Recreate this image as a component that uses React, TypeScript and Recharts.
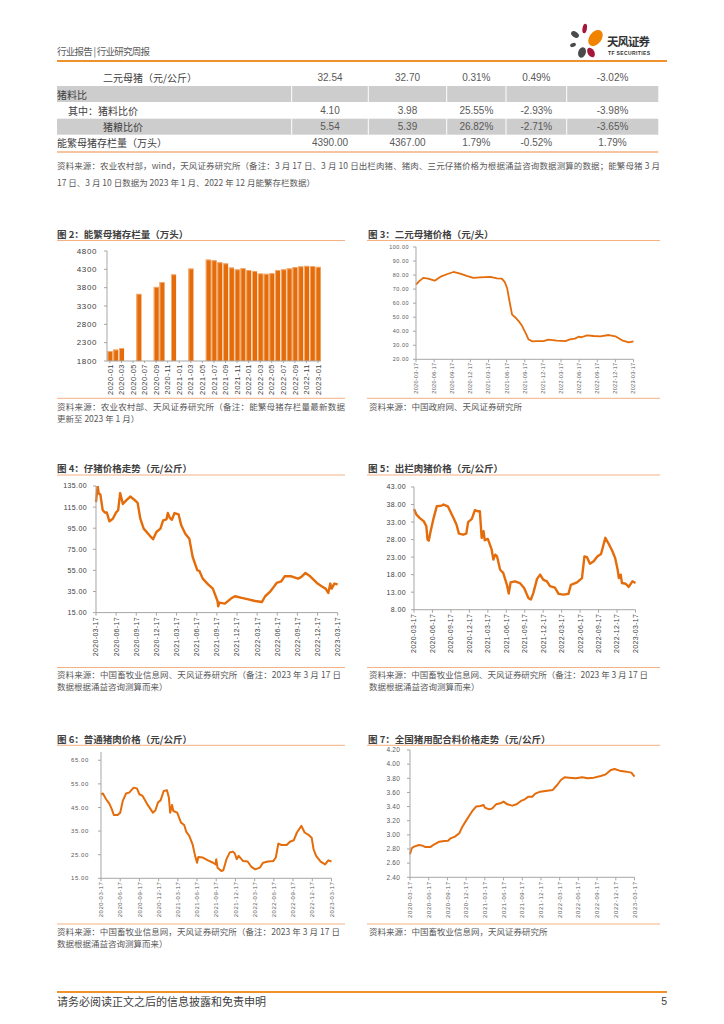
import React from 'react';
import { BarChart, Bar, LineChart, Line, XAxis, YAxis } from 'recharts';

const CJK = '"Noto Sans CJK SC","Noto Sans",sans-serif';
const NUM = '"Liberation Sans",Arial,sans-serif';
const LINE = '#E46C0A';
const RULE = '#F0922B';
const THIN = '#F4B183';

// ---------- table ----------
const rowLabels = ['二元母猪（元/公斤）', '猪料比', '其中：猪料比价', '猪粮比价', '能繁母猪存栏量（万头）'];
const rowValues = [
  ['32.54', '32.70', '0.31%', '0.49%', '-3.02%'],
  [],
  ['4.10', '3.98', '25.55%', '-2.93%', '-3.98%'],
  ['5.54', '5.39', '26.82%', '-2.71%', '-3.65%'],
  ['4390.00', '4367.00', '1.79%', '-0.52%', '1.79%'],
];

// ---------- chart 2: sow stock ----------
const sowMonths = ['2020-01','2020-02','2020-03','2020-04','2020-05','2020-06','2020-07','2020-08','2020-09','2020-10','2020-11','2020-12',
  '2021-01','2021-02','2021-03','2021-04','2021-05','2021-06','2021-07','2021-08','2021-09','2021-10','2021-11','2021-12',
  '2022-01','2022-02','2022-03','2022-04','2022-05','2022-06','2022-07','2022-08','2022-09','2022-10','2022-11','2022-12','2023-01'];
const sowStock = [2070, 2110, 2150, null, null, 3630, null, null, 3820, 3950, null, 4160,
  null, null, 4320, null, null, 4564, 4545, 4490, 4460, 4348, 4296, 4329,
  4280, 4255, 4185, 4177, 4192, 4277, 4298, 4324, 4362, 4379, 4394, 4390, 4367];
const sowTicks = [1800, 2300, 2800, 3300, 3800, 4300, 4800];

// ---------- date ticks for line charts (months since 2020-03-17) ----------
const dateTicks = ['2020-03-17','2020-06-17','2020-09-17','2020-12-17','2021-03-17','2021-06-17','2021-09-17',
  '2021-12-17','2022-03-17','2022-06-17','2022-09-17','2022-12-17','2023-03-17'];
const tickPos = dateTicks.map((_, i) => i * 3);

// chart 3: 二元母猪价格
const sowPrice = [[0,73.2],[0.5,75.5],[1.2,78],[2,77.5],[3.1,76],[4,78.7],[5.1,80.6],[6.2,82.2],[7.3,81],[8.4,79.4],[9.5,78],[10.6,78.4],[12.3,78.7],[13.4,77.7],[14.2,77.5],[14.7,75],[15.1,70.4],[15.5,60.8],[15.9,51.8],[16.4,50],[17.1,46.6],[17.5,44.2],[18.2,38.3],[18.6,34.3],[19.2,32.8],[20,33],[21.1,33],[21.9,34],[23.3,33.3],[24.7,33],[25.5,34.2],[26.3,34.7],[26.9,36.1],[27.4,35.7],[28.3,37.1],[29.4,36.6],[30.5,36.4],[31.9,37.3],[33,36.4],[34.1,33.5],[35.2,32.1],[36,32.8]];
// chart 4: 仔猪价格
const pigletPrice = [[0,119.8],[0.25,135],[0.4,128],[0.65,127],[1,112],[1.35,109.7],[1.6,110],[2,101.5],[2.5,104],[3,110],[3.3,112],[3.6,128.3],[4,118],[4.5,121.4],[5.1,125],[5.7,122],[6.2,119],[6.6,104],[7.1,94.6],[8,88],[8.5,84.5],[9,91.4],[9.6,94.6],[10,102.5],[10.5,103.4],[10.7,109.4],[11,104.7],[11.3,103],[11.7,109.4],[12.3,108],[12.7,97.7],[13.3,89.8],[13.9,85],[14.4,67.7],[15.1,55],[15.4,54.5],[15.9,47.2],[16.7,41.8],[17.4,37.7],[18.1,26],[18.2,21],[18.4,24.5],[19.2,23.5],[20.1,28.3],[20.7,30.5],[21.7,28.9],[22.7,27.6],[23.7,26],[24.7,25],[25.2,30.5],[25.9,34.6],[26.4,38.7],[26.9,43.1],[27.6,44.7],[28.1,49.4],[29.1,49.4],[30.1,47.2],[30.6,48.8],[31.2,52.6],[31.9,49.4],[32.9,43.1],[33.6,40],[34.2,37.7],[34.6,33.6],[34.9,42.5],[35.1,37.7],[35.5,42.5],[36,41.8]];
// chart 5: 出栏肉猪价格
const hogPrice = [[0,36.7],[0.4,35.1],[0.9,34.2],[1.6,33.2],[2,31.8],[2.2,28],[2.4,27.7],[2.7,30.4],[3.2,34.2],[3.7,37.5],[4.5,37.7],[4.8,38],[5.5,37.5],[6.4,34.2],[6.9,32.3],[7.3,29.7],[8,29.4],[8.5,29.7],[8.8,33],[9.4,33.9],[9.9,36.4],[10.3,36.1],[10.7,36.1],[11,28.5],[11.3,30.4],[11.5,27.8],[12,28.2],[12.6,25.3],[12.9,22.3],[13.2,23.7],[13.5,23.2],[14,19.4],[14.5,18.5],[15.1,15.1],[15.4,12.6],[15.7,15.8],[16.4,16.1],[17.2,15.6],[17.9,14.2],[18.6,11.3],[19,10.9],[19.4,12.8],[20,16.8],[20.5,18],[21,16.6],[21.6,16.1],[22.1,14.7],[22.9,14.3],[23.5,12.5],[24.3,12.3],[25.1,12.5],[25.5,15.1],[26.5,15.8],[27.3,17],[27.7,23.2],[28.1,23],[28.6,21.1],[29.2,21.8],[29.8,23.2],[30.4,23.9],[31.1,28.5],[31.7,26.6],[32.2,24.9],[32.7,22.7],[33.1,19.4],[33.3,17],[33.6,18],[33.8,15.6],[34.4,15.4],[34.9,14.5],[35.5,16.1],[36,15.6]];
// chart 6: 普通猪肉价格
const porkPrice = [[0,50.6],[0.3,50.9],[0.8,48.5],[1.3,46.6],[1.7,44.2],[2,41.8],[2.6,41.8],[3,42.8],[3.4,47.8],[3.9,50.9],[4.4,51.3],[5.1,53.4],[5.6,53.1],[6,50.6],[6.5,49.9],[7.3,46.1],[8.1,42.8],[8.5,43.8],[8.9,47.1],[9.3,48],[9.8,52],[10.3,52.3],[10.6,49.2],[10.8,42.8],[11.1,46.1],[11.3,43.5],[11.9,42.8],[12.5,38.6],[13,37.6],[13.3,34.8],[13.8,32.9],[14.3,29.4],[14.7,24.5],[15,21.6],[15.2,24],[15.9,23.8],[16.7,22.6],[17.5,21.6],[17.9,20.9],[18,23.1],[18.2,19.5],[18.8,18.1],[19.1,18.4],[19.6,23.1],[20.1,25.9],[20.6,26.3],[20.9,25.5],[21.2,23.1],[21.5,24.5],[22.2,22.3],[22.9,22.1],[23.5,19.8],[24.1,18.8],[24.8,19.5],[25.3,21.6],[26.1,22.1],[26.9,22.3],[27.3,23.8],[27.7,29.7],[28.2,29.1],[29,29.1],[29.5,30.5],[30.1,31.1],[30.6,34.4],[31.3,37.2],[31.8,34.4],[32.4,33.4],[32.9,32.2],[33.2,27.3],[33.6,24.5],[34.3,22.1],[35,20.9],[35.5,22.6],[36,22.1]];
// chart 7: 全国猪用配合料价格
const feedPrice = [[0,2.725],[0.27,2.81],[0.64,2.834],[1.45,2.857],[2,2.848],[2.4,2.83],[3.3,2.83],[3.9,2.867],[4.7,2.904],[5.5,2.914],[6.1,2.918],[6.5,2.951],[7.2,2.975],[7.9,3.022],[8.4,3.116],[8.9,3.187],[9.5,3.27],[10,3.338],[10.6,3.4],[11.3,3.408],[11.8,3.423],[12,3.385],[12.7,3.361],[13.2,3.375],[13.8,3.432],[14.5,3.446],[15,3.47],[15.6,3.432],[16.4,3.413],[17.1,3.432],[17.8,3.48],[18.4,3.503],[19,3.54],[19.6,3.54],[20.1,3.583],[20.9,3.611],[21.7,3.62],[22.9,3.635],[23.6,3.705],[24.2,3.776],[24.8,3.814],[25.5,3.809],[26.6,3.8],[27.6,3.814],[28.5,3.8],[29.5,3.809],[30.6,3.833],[31.4,3.856],[32.2,3.917],[32.8,3.932],[33.6,3.908],[34.7,3.894],[35.5,3.88],[36,3.823]];

type Cfg = {
  pl: number; pr: number; pt: number; pb: number;
  domain: [number, number]; ticks: number[];
  yfs: number; yls: number; ygap: number;
  xfs: number; xls: number; xgap: number;
  data: number[][]; sw: number; fill: string;
};

const cfg3: Cfg = { pl: 415.5, pr: 633, pt: 246.7, pb: 359, domain: [20, 100], ticks: [20, 30, 40, 50, 60, 70, 80, 90, 100],
  yfs: 5.5, yls: 0.5, ygap: 7, xfs: 5.5, xls: 0.3, xgap: 3.3, data: sowPrice, sw: 1.8, fill: '#595959' };
const cfg4: Cfg = { pl: 96, pr: 337.7, pt: 485.7, pb: 612.3, domain: [15, 135], ticks: [15, 35, 55, 75, 95, 115, 135],
  yfs: 7, yls: 0.4, ygap: 9, xfs: 7, xls: 0.35, xgap: 4.4, data: pigletPrice, sw: 2.4, fill: '#404040' };
const cfg5: Cfg = { pl: 413.5, pr: 635, pt: 487.3, pb: 610, domain: [8, 43], ticks: [8, 13, 18, 23, 28, 33, 38, 43],
  yfs: 7, yls: 0.4, ygap: 8, xfs: 7, xls: 0.35, xgap: 4, data: hogPrice, sw: 2.4, fill: '#404040' };
const cfg6: Cfg = { pl: 100.5, pr: 331, pt: 752.4, pb: 878.7, domain: [15, 68.5], ticks: [15, 25, 35, 45, 55, 65],
  yfs: 6, yls: 0.6, ygap: 12, xfs: 6, xls: 0.5, xgap: 3.3, data: porkPrice, sw: 2, fill: '#595959' };
const cfg7: Cfg = { pl: 409.5, pr: 634, pt: 749.7, pb: 877, domain: [2.4, 4.2], ticks: [2.4, 2.6, 2.8, 3.0, 3.2, 3.4, 3.6, 3.8, 4.0, 4.2],
  yfs: 6.5, yls: 0.2, ygap: 10, xfs: 6, xls: 0.6, xgap: 4, data: feedPrice, sw: 2, fill: '#595959' };

function PriceChart({ c }: { c: Cfg }) {
  const yw = 60, mt = 8, mr = 8, xh = 60;
  const left = c.pl - yw, top = c.pt - mt;
  const width = c.pr + mr - left;
  const height = mt + (c.pb - c.pt) + xh;
  const data = c.data.map(([t, v]) => ({ t, v }));
  return (
    <div style={{ position: 'absolute', left, top, width, height }}>
      <LineChart width={width} height={height} data={data} margin={{ top: mt, right: mr, left: 0, bottom: 0 }}>
        <XAxis dataKey="t" type="number" domain={[0, 36]} ticks={tickPos} interval={0} height={xh}
          stroke="#A6A6A6" tickSize={3} tickMargin={c.xgap - 3}
          tick={(p: any) => (
            <g transform={`translate(${p.x},${p.y})`}>
              <text transform="rotate(-90)" textAnchor="end" dy="0.35em" fontSize={c.xfs} fill={c.fill}
                fontFamily={NUM} style={{ letterSpacing: c.xls }}>{dateTicks[Math.round(p.payload.value / 3)]}</text>
            </g>
          )} />
        <YAxis type="number" domain={c.domain} ticks={c.ticks} interval={0} width={yw} stroke="#A6A6A6"
          tickSize={3} tickMargin={c.ygap - 3} allowDataOverflow
          tick={(p: any) => (
            <text x={p.x} y={p.y} dy="0.35em" textAnchor="end" fontSize={c.yfs} fill={c.fill} fontFamily={NUM}
              style={{ letterSpacing: c.yls }}>{Number(p.payload.value).toFixed(2)}</text>
          )} />
        <Line dataKey="v" type="linear" stroke={LINE} strokeWidth={c.sw} dot={false} isAnimationActive={false} strokeLinejoin="round" />
      </LineChart>
    </div>
  );
}

const BarShape = (p: any) => {
  const { x, y, width, height } = p;
  if (!height || height <= 0) return null;
  return (
    <g>
      <rect x={x} y={y} width={width} height={height} fill={LINE} />
      <rect x={x} y={y} width={0.9} height={height} fill="#F5B27A" />
      <rect x={x} y={y} width={width} height={0.8} fill="#F5B27A" />
    </g>
  );
};

function SowChart() {
  const pl = 107.1, pr = 321, pt = 250.7, pb = 360.7;
  const yw = 60, mt = 8, mr = 8, xh = 50;
  const left = pl - yw, top = pt - mt;
  const width = pr + mr - left;
  const height = mt + (pb - pt) + xh;
  const data = sowMonths.map((m, i) => ({ m, v: sowStock[i] }));
  return (
    <div style={{ position: 'absolute', left, top, width, height }}>
      <BarChart width={width} height={height} data={data} margin={{ top: mt, right: mr, left: 0, bottom: 0 }} barCategoryGap="9%">
        <XAxis dataKey="m" interval={1} height={xh} stroke="#A6A6A6" tickSize={2} tickMargin={1}
          tick={(p: any) => (
            <g transform={`translate(${p.x},${p.y})`}>
              <text transform="rotate(-90)" textAnchor="end" dy="0.35em" fontSize={7.5} fill="#404040"
                fontFamily={NUM} style={{ letterSpacing: 0.5 }}>{p.payload.value}</text>
            </g>
          )} />
        <YAxis type="number" domain={[1800, 4800]} ticks={sowTicks} interval={0} width={yw} stroke="#A6A6A6"
          tickSize={3} tickMargin={7} allowDataOverflow
          tick={(p: any) => (
            <text x={p.x} y={p.y} dy="0.35em" textAnchor="end" fontSize={8} fill="#404040" fontFamily={NUM}
              style={{ letterSpacing: 0.6 }}>{p.payload.value}</text>
          )} />
        <Bar dataKey="v" fill={LINE} shape={BarShape} isAnimationActive={false} />
      </BarChart>
    </div>
  );
}

function Txt({ x, y, s, fill = '#404040', bold = false, anchor = 'start', len, font = CJK, children }: any) {
  return (
    <text x={x} y={y} fontSize={s} fill={fill} fontWeight={bold ? 700 : 400} textAnchor={anchor}
      dominantBaseline="central" fontFamily={font}
      {...(len ? { textLength: len, lengthAdjust: 'spacing' } : {})}>{children}</text>
  );
}

const colBounds = [291.7, 368.3, 446.7, 506, 566.7, 658.3];
const rowCenters = [77, 94, 110.5, 126.7, 142.7];
const rowIndent = [103, 57, 68, 103, 57];

function Page() {
  const colCenters = colBounds.slice(0, 5).map((b, i) => (b + colBounds[i + 1]) / 2);
  return (
    <svg width={724} height={1024} style={{ position: 'absolute', left: 0, top: 0 }}>
      {/* header */}
      <Txt x={57} y={51} s={9.5} fill="#595959" len={93}>行业报告 | 行业研究周报</Txt>
      <line x1={57} x2={667} y1={61} y2={61} stroke={RULE} strokeWidth={1.8} />
      {/* logo */}
      <g>
        <ellipse cx={575} cy={34.5} rx={4.3} ry={2.8} transform="rotate(35 575 34.5)" fill="#4A4A4A" />
        <ellipse cx={584.7} cy={28.5} rx={2.2} ry={4.8} transform="rotate(10 584.7 28.5)" fill="#A5173A" />
        <ellipse cx={595.5} cy={38} rx={6} ry={9} transform="rotate(38 595.5 38)" fill="#F08300" />
        <ellipse cx={591} cy={52.5} rx={3.3} ry={5.2} transform="rotate(-30 591 52.5)" fill="#A5173A" />
        <ellipse cx={582} cy={52.5} rx={3.8} ry={5.3} transform="rotate(20 582 52.5)" fill="#4A4A4A" />
        <ellipse cx={573} cy={45} rx={3} ry={1.9} transform="rotate(-20 573 45)" fill="#4A4A4A" />
        <Txt x={607} y={40.5} s={11.5} bold fill="#333333" len={43}>天风证券</Txt>
        <Txt x={608} y={52.8} s={5} bold fill="#333333" font={NUM} len={42}>TF SECURITIES</Txt>
      </g>
      {/* table */}
      {[1, 3].map((r) => (
        <g key={r}>
          <rect x={57} y={rowCenters[r] - 8} width={601.3} height={16} fill="#CDCDCD" />
          {colBounds.slice(0, 5).map((b) => (
            <line key={b} x1={b} x2={b} y1={rowCenters[r] - 8} y2={rowCenters[r] + 8} stroke="#FFFFFF" strokeWidth={1} />
          ))}
        </g>
      ))}
      {rowLabels.map((l, r) => (
        <Txt key={l} x={rowIndent[r]} y={rowCenters[r]} s={10} fill="#404040">{l}</Txt>
      ))}
      {rowValues.map((vals, r) => vals.map((v, c) => (
        <Txt key={r + '-' + c} x={colCenters[c]} y={rowCenters[r]} s={10} anchor="middle" fill="#595959" font={NUM}>{v}</Txt>
      )))}
      <line x1={57} x2={658.3} y1={152} y2={152} stroke={THIN} strokeWidth={1.5} />
      <Txt x={57} y={164.5} s={8.5} fill="#595959" len={603}>资料来源：农业农村部，wind，天风证券研究所（备注：3 月 17 日、3 月 10 日出栏肉猪、猪肉、三元仔猪价格为根据涌益咨询数据测算的数据；能繁母猪 3 月</Txt>
      <Txt x={57} y={182} s={8.5} fill="#595959">17 日、3 月 10 日数据为 2023 年 1 月、2022 年 12 月能繁存栏数据）</Txt>

      {/* chart titles and rules */}
      <Txt x={57} y={233.5} s={9.5} bold>图 2：能繁母猪存栏量（万头）</Txt>
      <line x1={57} x2={345} y1={240.5} y2={240.5} stroke={THIN} strokeWidth={1} />
      <Txt x={368} y={233.5} s={9.5} bold>图 3：二元母猪价格（元/头）</Txt>
      <line x1={367} x2={660} y1={240.5} y2={240.5} stroke={THIN} strokeWidth={1} />
      <line x1={57} x2={345} y1={398.3} y2={398.3} stroke={THIN} strokeWidth={1} />
      <Txt x={57} y={405.5} s={8.5} fill="#595959" len={288}>资料来源：农业农村部、天风证券研究所（备注：能繁母猪存栏量最新数据</Txt>
      <Txt x={57} y={418} s={8.5} fill="#595959">更新至 2023 年 1 月）</Txt>
      <line x1={367} x2={660} y1={398.3} y2={398.3} stroke={THIN} strokeWidth={1} />
      <Txt x={369} y={405.5} s={8.5} fill="#595959">资料来源：中国政府网、天风证券研究所</Txt>

      <Txt x={57} y={468.3} s={9.5} bold>图 4：仔猪价格走势（元/公斤）</Txt>
      <line x1={57} x2={345} y1={475} y2={475} stroke={THIN} strokeWidth={1} />
      <Txt x={368} y={468.3} s={9.5} bold>图 5：出栏肉猪价格（元/公斤）</Txt>
      <line x1={367} x2={660} y1={475} y2={475} stroke={THIN} strokeWidth={1} />
      <line x1={57} x2={345} y1={667.5} y2={667.5} stroke={THIN} strokeWidth={1} />
      <Txt x={57} y={673.5} s={8.5} fill="#595959" len={284}>资料来源：中国畜牧业信息网、天风证券研究所（备注：2023 年 3 月 17 日</Txt>
      <Txt x={57} y={686} s={8.5} fill="#595959">数据根据涌益咨询测算而来）</Txt>
      <line x1={367} x2={660} y1={667.5} y2={667.5} stroke={THIN} strokeWidth={1} />
      <Txt x={369} y={673.5} s={8.5} fill="#595959" len={279}>资料来源：中国畜牧业信息网、天风证券研究所（备注：2023 年 3 月 17 日</Txt>
      <Txt x={369} y={686} s={8.5} fill="#595959">数据根据涌益咨询测算而来）</Txt>

      <Txt x={57} y={738.5} s={9.5} bold>图 6：普通猪肉价格（元/公斤）</Txt>
      <line x1={57} x2={345} y1={745.3} y2={745.3} stroke={THIN} strokeWidth={1} />
      <Txt x={368} y={738.5} s={9.5} bold>图 7：全国猪用配合料价格走势（元/公斤）</Txt>
      <line x1={367} x2={660} y1={745.3} y2={745.3} stroke={THIN} strokeWidth={1} />
      <line x1={57} x2={345} y1={924} y2={924} stroke={THIN} strokeWidth={1} />
      <Txt x={57} y={930.7} s={8.5} fill="#595959" len={283}>资料来源：中国畜牧业信息网，天风证券研究所（备注：2023 年 3 月 17 日</Txt>
      <Txt x={57} y={942.5} s={8.5} fill="#595959">数据根据涌益咨询测算而来）</Txt>
      <line x1={367} x2={660} y1={924} y2={924} stroke={THIN} strokeWidth={1} />
      <Txt x={369} y={930.7} s={8.5} fill="#595959">资料来源：中国畜牧业信息网，天风证券研究所</Txt>

      {/* footer */}
      <line x1={57} x2={667} y1={992} y2={992} stroke={RULE} strokeWidth={1.8} />
      <Txt x={57} y={1001} s={11} fill="#404040">请务必阅读正文之后的信息披露和免责申明</Txt>
      <Txt x={667} y={1001} s={10.5} fill="#404040" anchor="end" font={NUM}>5</Txt>
    </svg>
  );
}

export default function App() {
  return (
    <div style={{ position: 'absolute', left: 0, top: 0, width: 724, height: 1024, background: '#FFFFFF', overflow: 'hidden' }}>
      <Page />
      <SowChart />
      <PriceChart c={cfg3} />
      <PriceChart c={cfg4} />
      <PriceChart c={cfg5} />
      <PriceChart c={cfg6} />
      <PriceChart c={cfg7} />
    </div>
  );
}
